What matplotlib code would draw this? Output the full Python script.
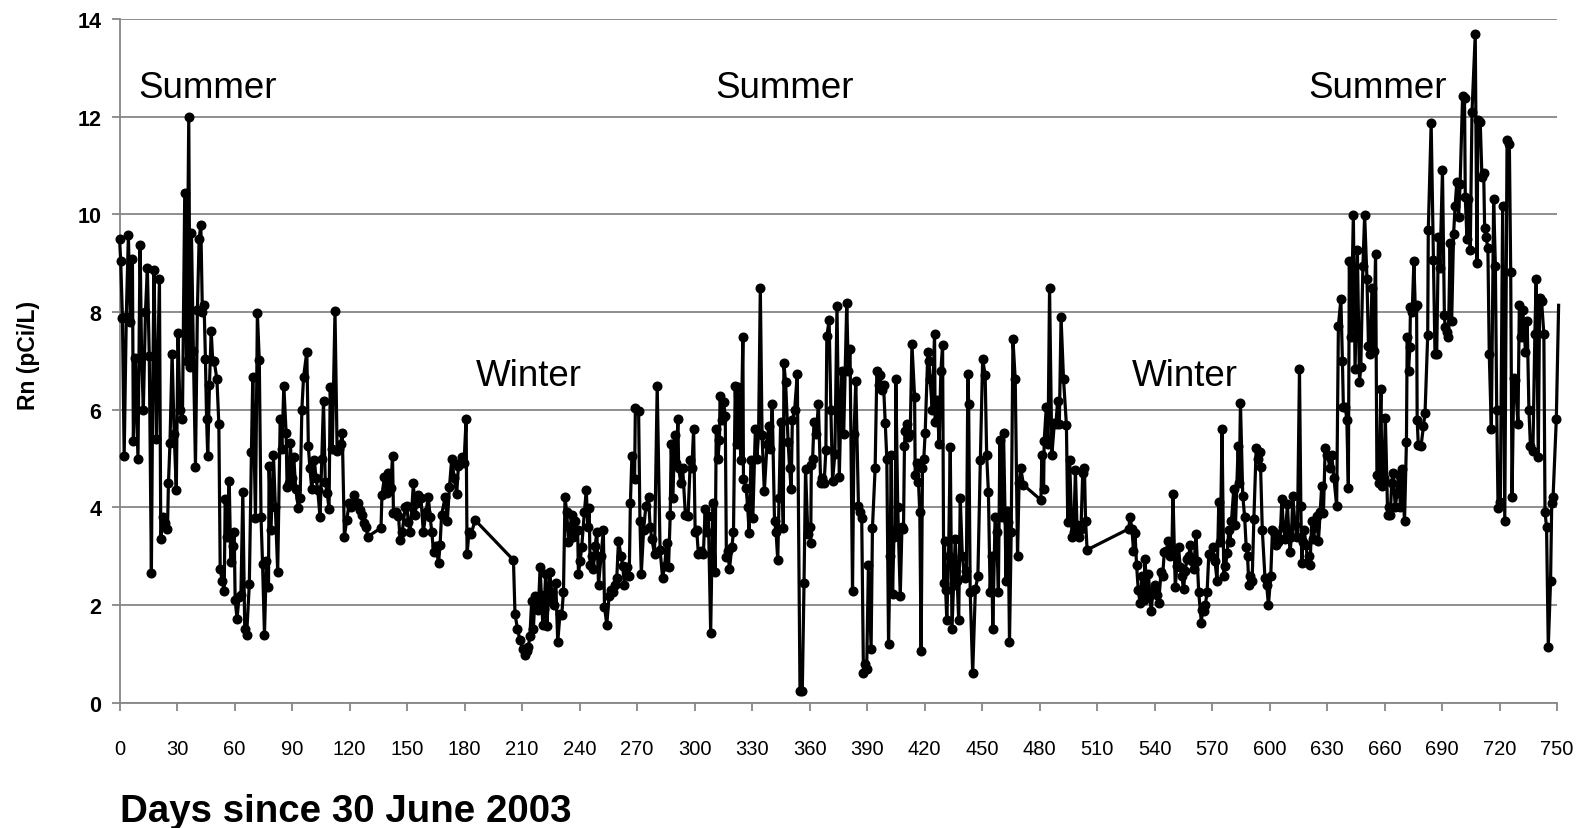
import matplotlib
matplotlib.use("Agg")
import matplotlib.pyplot as plt

plt.rcParams['font.family'] = ['Liberation Sans', 'DejaVu Sans']

# daily radon readings
days = [
    0, 0.6, 1.5, 2.4, 3.5, 4.6, 5.6, 6.7, 7.2, 8.2, 9.6, 10.7, 11.5, 12.4, 13.5, 14.5, 15.5, 16.6, 17.3, 18.0,
    19.2, 20.8, 21.5, 22.5, 23.7, 25.0, 25.5, 26.3, 27.4, 28.5, 29.6, 30.5, 31.5, 32.8, 34.0, 35.0, 36.1, 36.8,
    37.5, 38.5, 39.6, 40.6, 41.5, 42.4, 43.2, 44.1, 44.8, 45.4, 46.0, 46.9, 47.8, 48.6, 49.4, 50.8, 51.8, 52.5,
    53.5, 54.6, 55.1, 56.1, 57.2, 58.0, 59.0, 59.8, 60.3, 61.3, 62.3, 63.3, 64.3, 65.3, 66.3, 67.7, 68.8, 69.5,
    70.9, 71.9,
    72.9, 73.8, 74.6, 75.6, 76.6, 77.7, 78.0, 79.0, 80.3, 81.3, 82.5, 83.8, 84.7, 85.7, 86.9, 87.4, 88.2, 89.1,
    90.0, 90.9, 91.9, 93.3, 94.2, 95.1, 96.0, 97.7, 98.5, 99.3, 100.3, 101.6, 102.5, 103.4, 104.6, 105.5, 106.4,
    107.3, 108.3, 109.3, 109.9, 111.0, 112.4, 113.5, 114.5, 115.3, 116.2, 117.3, 118.5, 119.9, 121.0, 122.5,
    123.5, 124.6, 125.5, 126.3, 127.7, 128.6, 129.5, 136.4, 136.9, 138.2, 139.3, 140.3, 141.5, 142.4, 142.9,
    144.2, 145.5, 146.4, 147.5,
    149.0, 149.8, 150.7, 151.6, 152.5, 153.3, 154.2, 155.0, 155.9, 157.2, 158.5, 159.8, 161.1, 162.0, 162.9,
    163.8, 165.1, 166.4, 167.2, 168.0, 169.9, 171.0, 172.1, 173.3, 174.6, 175.9, 176.8, 177.6, 178.5, 179.7,
    180.8, 181.3, 182.3, 183.4, 185.5, 205.5, 206.3, 207.6, 208.9, 210.3, 211.5, 212.4, 213.3, 214.1, 215.0,
    215.9, 216.7, 217.6, 218.5, 219.4, 220.1, 220.8, 221.5, 222.3, 223.0, 223.6, 224.4, 225.5, 226.5, 227.6,
    228.6, 229.8, 230.7, 231.6,
    232.4, 233.3, 234.2, 235.0, 235.9, 236.8, 237.6, 239.0, 239.4, 240.3, 241.1, 242.5, 243.5, 244.3, 245.0,
    245.5, 246.4, 247.2, 248.1, 249.0, 249.9, 251.2, 252.4, 253.0, 254.2, 255.4, 256.5, 257.7, 258.5, 259.4,
    260.3, 261.7, 262.5, 263.4, 264.7, 265.9, 266.5, 267.3, 268.7, 269.1, 270.8, 271.5, 272.2, 273.4, 274.6,
    276.0, 276.8, 277.7, 279.1, 280.5, 282.0, 283.3, 284.4, 285.4, 286.4, 287.3, 287.8, 288.7, 289.6, 290.5,
    291.3, 291.7, 292.8, 293.8, 295.2, 296.6, 297.8, 298.6, 299.5, 300.3,
    301.1, 302.0, 303.3, 304.6, 305.5, 306.3, 307.2, 308.4, 309.5, 310.7, 311.3, 312.2, 313.0, 313.3, 314.2,
    315.1, 316.0, 316.6, 317.4, 318.2, 319.4, 320.3, 321.2, 322.0, 322.9, 324.1, 325.2, 325.5, 326.9, 327.7,
    328.5, 329.4, 330.4, 331.7, 332.5, 333.4, 334.3, 335.2, 336.4, 337.8, 338.7, 339.6, 340.5, 341.7, 342.5,
    343.4, 344.1, 344.9, 346.3, 346.6, 347.5, 348.8, 349.6, 350.4, 351.0, 352.2, 353.6, 355.0, 356.2, 357.1,
    357.9, 359.1, 360.0, 360.6, 360.9, 361.6, 362.3, 363.5, 364.6, 365.8, 366.7, 367.6, 368.5, 369.0, 370.2,
    371.1, 372.0, 373.2, 374.3,
    375.5, 376.8, 377.8, 379.4, 380.2, 381.1, 382.4, 383.2, 384.1, 385.5, 386.3, 387.2, 388.1, 389.0, 389.8,
    390.7, 392.1, 392.8, 394.2, 395.1, 396.0, 396.8, 397.7, 398.6, 399.5, 400.3, 401.2, 402.0, 402.6, 403.3,
    404.0, 404.7, 405.0, 406.0, 407.3, 408.2, 409.0, 409.5, 409.9, 410.8, 411.6, 412.5, 413.4, 414.8, 415.1,
    416.0, 416.8, 417.5, 418.2, 418.9, 419.6, 420.3, 421.7, 422.3, 422.9, 424.0, 425.2, 425.5, 426.5, 427.6,
    428.5, 429.4, 430.0, 430.4, 431.0, 431.6, 432.5, 433.4, 434.3, 435.1, 436.0, 437.0, 437.8, 438.6, 439.7,
    440.9, 441.8, 442.6, 443.0, 443.8, 445.1, 446.5, 447.8, 449.1, 450.3,
    451.6, 452.4, 453.3, 454.2, 455.0, 455.6, 456.8, 457.6, 458.5, 459.3, 460.2, 461.2, 462.0, 462.5, 462.9,
    463.6, 464.3, 465.2, 466.1, 467.3, 468.5, 469.3, 470.2, 471.6, 480.7, 481.2, 482.1, 482.4, 483.5, 484.4,
    485.2, 486.4, 487.7, 488.5, 489.4, 490.3, 491.2, 492.5, 494.0, 494.7, 495.7, 496.9, 497.8, 498.7, 499.5,
    500.5, 501.6, 502.5, 503.4, 504.0, 504.8, 526.5, 527.2,
    528.2, 529.0, 529.8, 530.6, 531.5, 532.4, 533.5, 534.3, 535.0, 535.9, 536.8, 537.5, 538.2, 539.2, 540.3,
    541.2, 542.1, 543.4, 544.2, 545.1, 546.1, 547.2, 548.0, 549.0, 549.6, 550.8, 551.6, 552.5, 553.4, 554.2,
    555.1, 556.0, 556.9, 557.8, 558.6, 559.5, 560.4, 561.6, 562.3, 563.0, 564.4, 565.0, 565.6, 566.5, 567.4,
    568.3, 569.3, 570.3, 571.5, 572.6, 573.5, 574.3, 575.2, 576.1, 577.0, 577.9, 578.7, 579.4, 580.1, 581.3,
    582.2, 583.6, 584.2, 584.8, 586.0, 587.0, 587.8, 588.5, 589.2, 590.0, 590.9, 591.8, 593.0, 594.0, 594.8,
    595.3, 596.2, 597.6, 598.5, 599.4, 600.6, 601.5,
    602.3, 603.4, 604.4, 605.5, 606.4, 607.2, 608.1, 609.3, 610.0, 610.7, 611.4, 612.1, 613.3, 614.5, 615.6,
    616.3, 616.8, 617.4, 618.0, 619.1, 619.8, 620.5, 621.1, 622.0, 622.9, 623.8, 624.6, 625.5, 626.4, 627.2,
    628.1, 629.0, 630.2, 631.6, 632.4, 633.6, 635.0, 635.9, 637.2, 638.0, 638.5, 639.5, 640.3, 641.1, 641.6,
    642.5, 643.7, 644.6, 645.8, 646.9, 647.6, 648.7, 649.6, 650.8, 651.6, 652.5, 653.4, 654.3, 655.3, 656.0,
    657.0, 658.1, 658.6, 659.5, 660.4, 661.6, 662.3, 663.0, 663.7, 664.4, 665.6, 666.5, 667.4, 668.3, 669.1,
    670.4, 671.4, 671.8, 672.5, 673.2, 673.5, 674.4, 675.3, 676.0, 676.7, 677.0, 677.6,
    679.0, 680.3, 681.1, 682.5, 682.8, 684.3, 685.5, 686.3, 687.2, 688.1, 688.9, 690.2, 691.2, 691.6, 692.5,
    693.3, 694.2, 695.0, 696.0, 696.8, 697.7, 698.6, 699.4, 700.7, 701.7, 702.1, 703.0, 703.5, 704.7, 705.6,
    707.3, 708.2, 708.7, 709.9, 710.8, 711.7, 712.2, 712.9, 713.9, 714.6, 715.7, 716.9, 717.8, 718.5, 719.2,
    720.4, 721.6, 722.7, 723.9, 725.1, 725.8, 726.5, 727.4, 728.2, 729.6, 730.3, 731.2, 732.1, 733.5, 734.4,
    735.3, 736.1, 737.4, 738.4, 739.1, 740.2, 740.9, 741.9, 743.1, 743.7, 744.5, 745.4, 746.6, 747.2, 747.9,
    749.6, 750.8,
]

radon = [
    9.5, 9.04, 7.87, 5.05, 7.9, 9.58, 7.8, 9.09, 5.36, 7.06, 5.0, 9.38, 7.1, 6.0, 8.0, 8.9, 7.1, 2.65, 6.5, 8.86,
    5.4, 8.68, 3.36, 3.8, 3.67, 3.55, 4.49, 5.32, 7.15, 5.5, 4.35, 7.58, 6.0, 5.81, 10.44, 7.0, 12.0, 6.88,
    9.63, 7.2, 4.83, 8.05, 9.5, 9.78, 8.0, 8.14, 7.04, 5.81, 5.05, 6.5, 7.62, 7.0, 6.99, 6.62, 5.7, 2.74,
    2.5, 2.29, 4.17, 3.4, 4.55, 2.89, 3.2, 3.49, 2.11, 1.71, 2.17, 2.2, 4.31, 1.5, 1.39, 2.43, 5.14, 6.68,
    3.79, 7.98,
    7.01, 3.8, 2.84, 1.39, 2.9, 2.36, 4.85, 3.54, 5.07, 4.0, 2.68, 5.81, 5.2, 6.49, 5.52, 4.41, 4.5, 5.32,
    4.6, 5.03, 4.37, 3.99, 4.2, 6.0, 6.67, 7.19, 5.25, 4.8, 4.37, 4.98, 4.6, 4.35, 3.8, 5.0, 6.18,
    4.53, 4.3, 3.97, 6.47, 5.2, 8.02, 5.16, 5.2, 5.3, 5.52, 3.4, 3.74, 4.1, 4.0, 4.26,
    4.1, 4.08, 3.95, 3.85, 3.67, 3.6, 3.4, 3.58, 4.26, 4.62, 4.3, 4.71, 4.4, 5.05, 3.88,
    3.9, 3.83, 3.34, 3.5,
    4.0, 4.03, 3.7, 3.49, 4.0, 4.49, 3.85, 4.1, 4.26, 4.2, 3.49, 3.9, 4.21, 3.81, 3.5,
    3.09, 3.2, 2.86, 3.22, 3.85, 4.21, 3.72, 4.41, 5.0, 4.6, 4.28, 4.85, 4.9, 5.03, 4.9,
    5.81, 3.04, 3.5, 3.45, 3.74, 2.92, 1.82, 1.51, 1.28, 1.1, 0.97, 1.05, 1.15, 1.37, 2.09,
    1.5, 2.18, 2.0, 1.9, 2.77, 2.2, 1.6, 1.91, 2.64, 1.57, 2.09, 2.68, 2.27, 2.0, 2.45,
    1.24, 1.82, 1.8, 2.27,
    4.21, 3.9, 3.3, 3.58, 3.85, 3.4, 3.72, 3.54, 2.64, 2.9, 3.18, 3.9, 4.35, 3.6, 3.99,
    2.82, 3.0, 2.73, 3.2, 3.49, 2.41, 3.0, 3.54, 1.96, 1.6, 2.18, 2.3, 2.27, 2.4, 2.55,
    3.31, 3.0, 2.8, 2.41, 2.77, 2.59, 4.08, 5.05, 4.58, 6.04, 5.97, 3.72, 2.64, 3.54, 4.03,
    4.21, 3.6, 3.36, 3.04, 6.49, 3.13, 2.56, 2.8, 3.27, 2.77, 3.85, 5.3, 4.2, 5.48, 4.9,
    5.81, 4.8, 4.5, 4.8, 3.85, 3.83, 4.98, 4.8, 5.61, 3.49,
    3.54, 3.04, 3.1, 3.04, 3.97, 3.5, 3.83, 1.43, 4.1, 2.68, 5.6, 5.0, 5.39, 6.29, 5.8,
    6.16, 5.88, 2.98, 3.1, 2.73, 3.18, 3.49, 6.49, 5.3, 6.47, 4.98, 7.49, 4.58, 4.4, 4.0,
    3.47, 4.98, 3.79, 5.6, 5.0, 5.52, 8.5, 5.48, 4.33, 5.3, 5.66, 5.2, 6.11, 3.72, 3.5,
    2.92, 4.2, 5.75, 3.58, 6.95, 6.56, 5.34, 4.8, 4.37, 5.79, 5.99, 6.74, 0.24, 0.24, 2.45,
    4.78, 3.45, 3.6, 3.27, 4.87, 5.0, 5.75, 5.5, 6.11, 4.49, 4.6, 4.49, 5.18, 7.51, 7.83,
    6.0, 4.55, 5.09, 8.12,
    4.62, 6.79, 5.5, 8.19, 6.8, 7.24, 2.29, 5.5, 6.59, 4.03, 3.9, 3.79, 0.6, 0.8, 0.69,
    2.83, 1.1, 3.58, 4.8, 6.79, 6.5, 6.71, 6.4, 6.5, 5.72, 5.0, 1.21, 3.0, 5.07, 2.23,
    3.4, 3.54, 6.62, 4.0, 2.18, 3.6, 3.56, 5.25, 5.57, 5.7, 5.45, 5.5, 7.35, 6.26, 4.67,
    4.9, 4.53, 3.9, 1.06, 4.8, 5.0, 5.52, 7.19, 7.0, 6.62, 6.0, 7.55, 5.75, 6.2, 5.3,
    6.8, 7.33, 2.45, 3.31, 2.3, 1.69, 3.0, 5.23, 1.51, 2.4, 3.36, 2.5, 1.69, 4.19, 3.0,
    2.55, 2.7, 6.74, 6.11, 2.27, 0.6, 2.32, 2.59, 4.98, 7.04,
    6.71, 5.07, 4.31, 2.27, 3.0, 1.51, 3.81, 3.5, 2.27, 5.39, 3.8, 5.52, 3.8, 2.5, 3.92,
    3.7, 1.24, 3.5, 7.44, 6.62, 3.01, 4.5, 4.8, 4.46, 4.15, 5.07, 4.37, 5.36, 6.06, 5.3,
    8.5, 5.07, 5.72, 5.7, 6.17, 5.7, 7.89, 6.62, 5.69, 3.7, 4.98, 3.4, 3.5, 4.76, 3.63,
    3.4, 3.56, 4.7, 4.8, 3.72, 3.13, 3.56, 3.81,
    3.56, 3.1, 3.47, 2.82, 2.3, 2.05, 2.6, 2.1, 2.95, 2.27, 2.64, 2.2, 1.87, 2.3, 2.41,
    2.2, 2.05, 2.68, 2.6, 3.09, 3.1, 3.31, 3.0, 3.09, 4.28, 2.36, 2.8, 3.18, 2.77, 2.6,
    2.32, 2.7, 2.95, 3.0, 3.22, 2.9, 2.73, 3.45, 2.9, 2.27, 1.64, 1.9, 1.87, 2.0, 2.27,
    3.04, 3.0, 3.18, 2.9, 2.5, 4.12, 3.3, 5.6, 2.59, 2.8, 3.07, 3.54, 3.3, 3.72, 4.37,
    3.63, 5.25, 4.5, 6.14, 4.24, 3.8, 3.18, 3.0, 2.41, 2.6, 2.5, 3.76, 5.21, 5.0, 5.14,
    4.82, 3.54, 2.55, 2.4, 2.0, 2.59, 3.54,
    3.49, 3.22, 3.3, 3.36, 4.17, 3.6, 3.36, 4.06, 3.5, 3.09, 3.4, 4.24, 3.63, 3.4, 6.83,
    4.03, 2.86, 3.3, 3.54, 3.22, 2.86, 3.0, 2.82, 3.72, 3.36, 3.6, 3.83, 3.31, 3.9, 4.44,
    3.88, 5.21, 5.07, 4.8, 5.07, 4.6, 4.03, 7.72, 8.26, 7.0, 6.06, 6.06, 5.8, 4.4, 9.04,
    7.5, 9.99, 6.83, 9.27, 6.56, 6.88, 8.95, 9.99, 8.68, 7.3, 7.15, 8.5, 7.2, 9.2, 4.67,
    4.5, 6.43, 4.44, 4.6, 5.84, 3.85, 4.0, 3.85, 4.5, 4.71, 4.0, 4.3, 4.67, 4.0, 4.78,
    3.72, 5.34, 7.49, 6.8, 7.28, 8.1, 8.0, 9.04, 8.1, 8.14, 5.79, 5.27,
    5.25, 5.66, 5.93, 7.53, 9.68, 11.87, 9.06, 7.15, 7.15, 9.54, 8.91, 10.91, 7.94, 7.69, 7.6,
    7.49, 9.42, 7.82, 9.6, 10.17, 10.67, 9.95, 10.62, 12.43, 12.38, 10.35, 9.49, 10.32, 9.27, 12.09,
    13.69, 9.0, 11.93, 11.89, 10.76, 10.85, 9.72, 9.54, 9.31, 7.15, 5.61, 10.31, 8.95, 6.0, 3.99,
    4.12, 10.17, 3.72, 11.53, 11.44, 8.82, 4.21, 6.65, 6.61, 5.7, 8.14, 7.5, 8.05, 7.19, 7.82,
    6.0, 5.25, 5.16, 7.55, 8.68, 5.03, 8.28, 8.23, 7.55, 3.9, 3.6, 1.15, 2.5, 4.08, 4.21,
    5.81, 8.14,
]

seasons = ["Summer", "Winter", "Summer", "Winter", "Summer"]
season_day = [10, 186, 311, 528, 620]
season_rn = [12.6, 6.7, 12.6, 6.7, 12.6]

fig = plt.figure(figsize=(15.9, 8.29), dpi=100)
ax = fig.add_axes([0.0752, 0.1512, 0.9041, 0.8244])

grid_col = '#868686'
ax.plot(days, radon, color='black', lw=2.3, clip_on=False, zorder=3)
# last reading has no marker in the original
ax.plot(days[:-1], radon[:-1], 'o', color='black', ms=6.2, clip_on=False, zorder=4)

for name, d, r in zip(seasons, season_day, season_rn):
    ax.text(d, r, name, fontsize=26.5, ha='left', va='center')

ax.set_xlim(0, 750)
ax.set_ylim(0, 14)
ax.set_xticks(range(0, 751, 30))
ax.set_yticks(range(0, 15, 2))
ax.yaxis.grid(True, color=grid_col, lw=1.3)
ax.set_axisbelow(True)

for s in ['top', 'right']:
    ax.spines[s].set_visible(False)
for s in ['left', 'bottom']:
    ax.spines[s].set_color(grid_col)
    ax.spines[s].set_linewidth(1.3)

ax.tick_params(axis='x', direction='out', length=6, width=1.3, color=grid_col,
               labelsize=14.5, pad=20)
ax.tick_params(axis='y', direction='out', length=6, width=1.3, color=grid_col,
               labelsize=15.5, pad=7)
for lab in ax.get_yticklabels():
    lab.set_fontweight('bold')

fig.text(28.4 / 1590, 1 - 355 / 829, "Rn (pCi/L)", rotation=90, fontsize=16.5,
         fontweight='bold', ha='center', va='center')
fig.text(120 / 1590, 1 - 822 / 829, "Days since 30 June 2003", fontsize=27.7,
         fontweight='bold', ha='left', va='baseline')

fig.savefig("out.png", dpi=100)
